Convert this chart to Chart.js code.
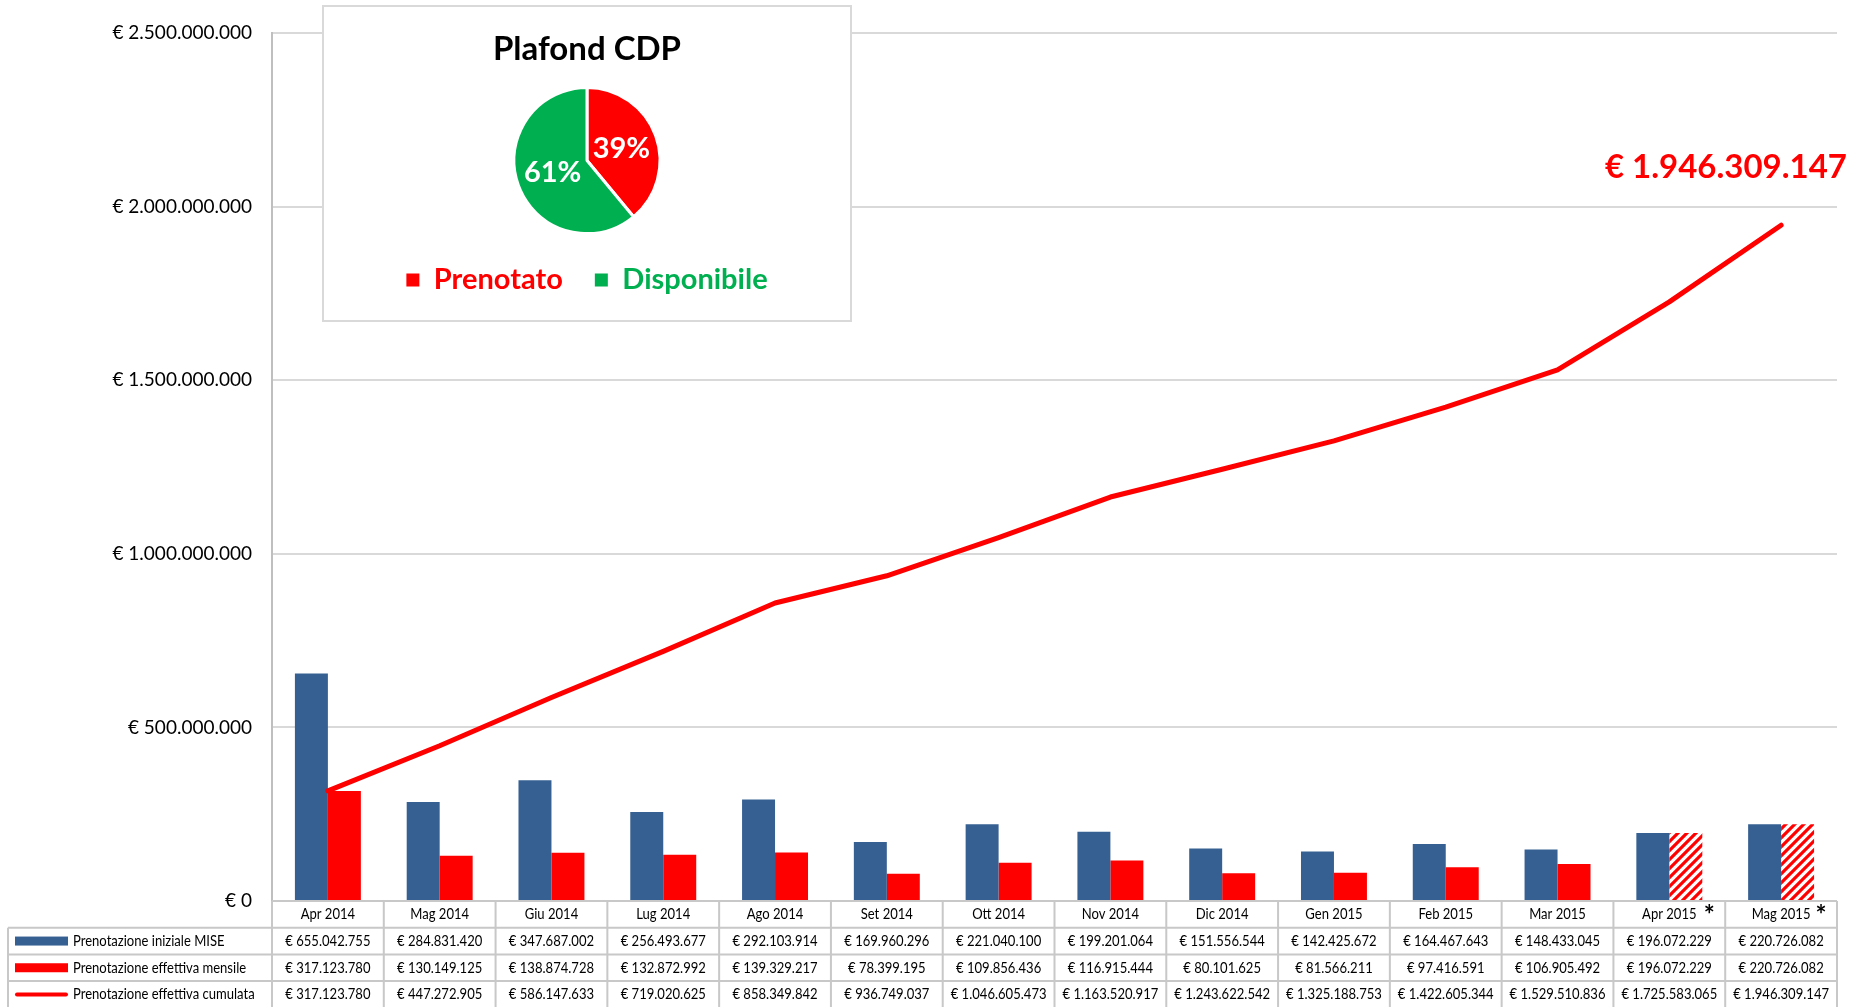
<!DOCTYPE html>
<html>
<head>
<meta charset="utf-8">
<script src="https://cdn.jsdelivr.net/npm/chart.js@4.4.1/dist/chart.umd.min.js"></script>
<style>
  html, body { margin: 0; padding: 0; background: #fff; overflow: hidden; }
  #main { position: absolute; left: 0; top: 0; }
  #pieBox { position: absolute; left: 322px; top: 5px; width: 526px; height: 313px; border: 2px solid #d9d9d9; background: #fff; }
  #pie { display: block; }
</style>
</head>
<body>
<canvas id="main" width="1853" height="1007"></canvas>
<div id="pieBox"><canvas id="pie" width="526" height="313"></canvas></div>
<script>
/* Dati del grafico */
const mesi = ['Apr 2014', 'Mag 2014', 'Giu 2014', 'Lug 2014', 'Ago 2014', 'Set 2014', 'Ott 2014',
              'Nov 2014', 'Dic 2014', 'Gen 2015', 'Feb 2015', 'Mar 2015', 'Apr 2015', 'Mag 2015'];
const mesiStimati = ['Apr 2015', 'Mag 2015'];   // colonne con asterisco e barra tratteggiata
const iniziale = [655042755, 284831420, 347687002, 256493677, 292103914, 169960296, 221040100,
                  199201064, 151556544, 142425672, 164467643, 148433045, 196072229, 220726082];
const mensile  = [317123780, 130149125, 138874728, 132872992, 139329217, 78399195, 109856436,
                  116915444, 80101625, 81566211, 97416591, 106905492, 196072229, 220726082];
const cumulata = [317123780, 447272905, 586147633, 719020625, 858349842, 936749037, 1046605473,
                  1163520917, 1243622542, 1325188753, 1422605344, 1529510836, 1725583065, 1946309147];
const nomiSerie = ['Prenotazione iniziale MISE', 'Prenotazione effettiva mensile', 'Prenotazione effettiva cumulata'];
const yMax = 2500000000, yStep = 500000000;

const pieTitolo = 'Plafond CDP';
const pieLabels = ['Prenotato', 'Disponibile'];
const pieValori = [39, 61];

const BLU = '#366092', ROSSO = '#ff0000', VERDE = '#00b050', BORDO = '#c8c8c8';
const FONT = 'Lato';

const fmt = (n) => String(n).replace(/\B(?=(\d{3})+(?!\d))/g, '.');
const euro = (n) => '€ ' + fmt(n);

/* tratteggio rosso per i mesi stimati */
function tratteggio() {
    const c = document.createElement('canvas');
    c.width = 9; c.height = 9;
    const g = c.getContext('2d');
    g.fillStyle = '#fff'; g.fillRect(0, 0, 9, 9);
    g.strokeStyle = ROSSO; g.lineWidth = 3.2;
    g.beginPath();
    g.moveTo(-1, 10); g.lineTo(10, -1);
    g.moveTo(-2, 2); g.lineTo(2, -2);
    g.moveTo(7, 11); g.lineTo(11, 7);
    g.stroke();
    return g.createPattern(c, 'repeat');
}
const pattern = tratteggio();
const coloriMensile = mesi.map(m => mesiStimati.includes(m) ? pattern : ROSSO);

// testo "stretto" come nella tabella originale
function testoStretto(ctx, txt, x, y, align) {
    ctx.save();
    ctx.translate(x, y);
    ctx.scale(0.87, 1);
    ctx.textAlign = align || 'center';
    ctx.fillText(txt, 0, 0);
    ctx.restore();
}

/* Tabella dati sotto il grafico */
const tabellaPlugin = {
    id: 'tabella',
    afterDraw(chart) {
        const { ctx, chartArea } = chart;
        const x = chart.scales.x;
        const colW = (chartArea.right - chartArea.left) / mesi.length;
        const top = chartArea.bottom, rowH = 26.7, leftT = 8, bottom = chart.height;
        const rows = [iniziale, mensile, cumulata];

        ctx.save();
        ctx.strokeStyle = BORDO; ctx.lineWidth = 2;
        ctx.beginPath();
        ctx.moveTo(chartArea.left, top); ctx.lineTo(chartArea.right, top);
        for (let r = 1; r <= 3; r++) {
            ctx.moveTo(leftT, top + r * rowH); ctx.lineTo(chartArea.right, top + r * rowH);
        }
        for (let i = 0; i <= mesi.length; i++) {
            const xx = chartArea.left + i * colW;
            ctx.moveTo(xx, top); ctx.lineTo(xx, bottom);
        }
        ctx.moveTo(leftT, top + rowH); ctx.lineTo(leftT, bottom);
        ctx.stroke();

        ctx.fillStyle = '#000';
        ctx.textBaseline = 'middle';
        ctx.font = '15px ' + FONT;
        mesi.forEach((m, i) => {
            const cx = x.getPixelForValue(i);
            testoStretto(ctx, m, cx, top + rowH / 2);
            if (mesiStimati.includes(m)) {
                ctx.save();
                ctx.font = 'bold 26px ' + FONT;
                ctx.textAlign = 'center';
                ctx.fillText('*', cx + 40, top + rowH / 2 + 1);
                ctx.restore();
            }
            rows.forEach((serie, r) => testoStretto(ctx, euro(serie[i]), cx, top + (r + 1.5) * rowH));
        });

        // legenda nella prima colonna
        nomiSerie.forEach((n, r) => {
            const cy = top + (r + 1.5) * rowH;
            if (r < 2) {
                ctx.fillStyle = r === 0 ? BLU : ROSSO;
                ctx.fillRect(15, cy - 4.5, 53, 9);
            } else {
                ctx.strokeStyle = ROSSO; ctx.lineWidth = 4; ctx.lineCap = 'round';
                ctx.beginPath(); ctx.moveTo(17, cy); ctx.lineTo(66, cy); ctx.stroke();
            }
            ctx.fillStyle = '#000';
            testoStretto(ctx, n, 73, cy, 'left');
        });
        ctx.restore();
    }
};

/* Etichetta del valore finale cumulato */
const finalePlugin = {
    id: 'finale',
    afterDatasetsDraw(chart) {
        const { ctx, chartArea } = chart;
        const meta = chart.getDatasetMeta(0);
        const p = meta.data[meta.data.length - 1];
        ctx.save();
        ctx.font = 'bold 33px ' + FONT;
        ctx.fillStyle = ROSSO;
        ctx.textAlign = 'right';
        ctx.textBaseline = 'alphabetic';
        ctx.fillText(euro(cumulata[cumulata.length - 1]), chartArea.right + 10, p.y - 47);
        ctx.restore();
    }
};

new Chart(document.getElementById('main'), {
    type: 'bar',
    data: {
        labels: mesi,
        datasets: [
            {
                type: 'line', label: nomiSerie[2], data: cumulata,
                borderColor: ROSSO, backgroundColor: ROSSO, borderWidth: 5, pointRadius: 0,
                tension: 0, borderCapStyle: 'round', borderJoinStyle: 'round', fill: false, order: 0
            },
            { type: 'bar', label: nomiSerie[0], data: iniziale, backgroundColor: BLU, order: 1 },
            { type: 'bar', label: nomiSerie[1], data: mensile, backgroundColor: coloriMensile, order: 1 }
        ]
    },
    options: {
        responsive: false, animation: false,
        layout: { padding: { top: 33, right: 16, bottom: 106, left: 0 } },
        datasets: { bar: { barPercentage: 1, categoryPercentage: 0.59 } },
        scales: {
            x: { display: false },
            y: {
                min: 0, max: yMax,
                ticks: { stepSize: yStep, padding: 20, color: '#000', font: { family: FONT, size: 19 }, callback: v => euro(v) },
                grid: { color: '#d9d9d9', lineWidth: 2, drawTicks: false },
                border: { color: '#bfbfbf', width: 2 },
                afterFit: (s) => { s.width = 272; }
            }
        },
        plugins: { legend: { display: false }, tooltip: { enabled: false } }
    },
    plugins: [tabellaPlugin, finalePlugin]
});

/* Torta Plafond CDP */
const pieColori = [ROSSO, VERDE];
const percentuali = {
    id: 'percentuali',
    afterDatasetsDraw(chart) {
        const { ctx } = chart;
        chart.getDatasetMeta(0).data.forEach((arc, i) => {
            const { x, y } = arc.tooltipPosition();
            ctx.save();
            ctx.fillStyle = '#fff';
            ctx.font = 'bold 29px ' + FONT;
            ctx.textAlign = 'center'; ctx.textBaseline = 'middle';
            ctx.fillText(pieValori[i] + '%', x, y);
            ctx.restore();
        });
    }
};

new Chart(document.getElementById('pie'), {
    type: 'pie',
    data: {
        labels: pieLabels,
        datasets: [{ data: pieValori, backgroundColor: pieColori, borderColor: '#fff', borderWidth: 3 }]
    },
    options: {
        responsive: false, animation: false, radius: 73,
        layout: { padding: { bottom: 15.5 } },
        plugins: {
            title: {
                display: true, text: pieTitolo, color: '#000',
                font: { family: FONT, size: 33, weight: 'bold', lineHeight: 1.2 },
                padding: { top: 23, bottom: 18 }
            },
            legend: {
                position: 'bottom',
                labels: {
                    boxWidth: 13, boxHeight: 13, padding: 32,
                    font: { family: FONT, size: 29, weight: 'bold' },
                    generateLabels: () => pieLabels.map((t, i) => ({
                        text: t, fillStyle: pieColori[i], strokeStyle: pieColori[i], lineWidth: 0,
                        fontColor: pieColori[i], index: i, datasetIndex: 0, hidden: false
                    }))
                }
            },
            tooltip: { enabled: false }
        }
    },
    plugins: [percentuali]
});
</script>
</body>
</html>
